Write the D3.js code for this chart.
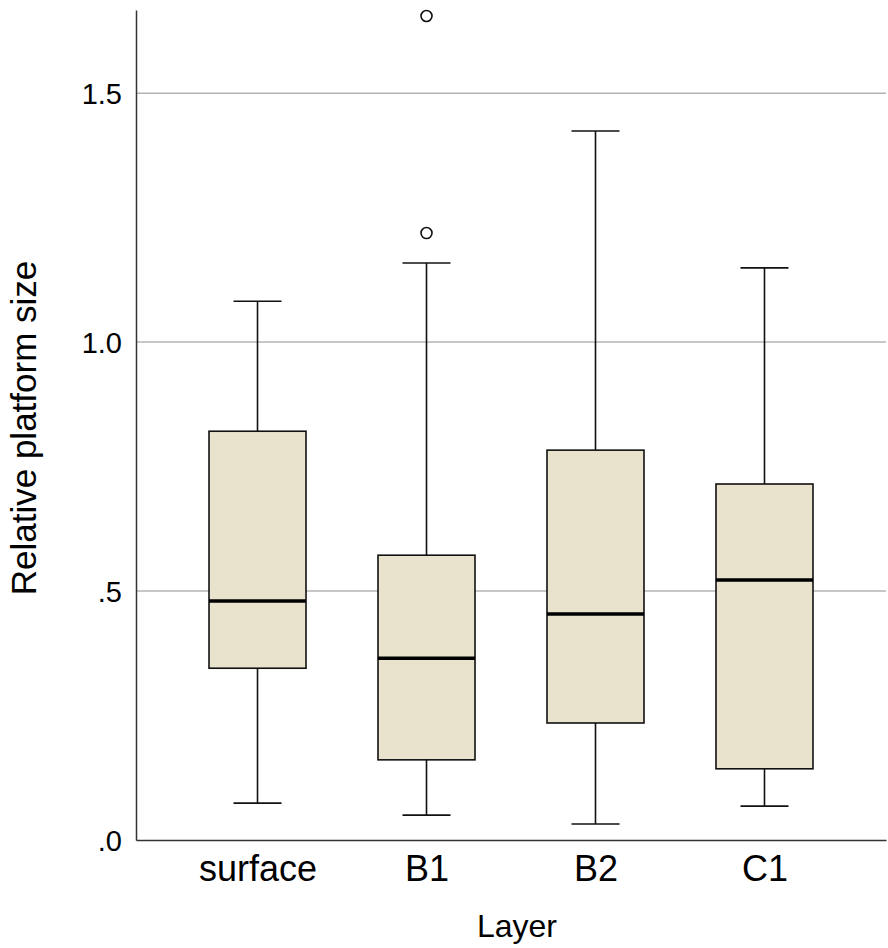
<!DOCTYPE html>
<html>
<head>
<meta charset="utf-8">
<script src="https://cdn.jsdelivr.net/npm/d3@7"></script>
<style>
  body { margin: 0; background: #fff; }
  svg text { font-family: "Liberation Sans", Arial, sans-serif; fill: #000; }
</style>
</head>
<body>
<div id="chart"></div>
<script>
// Box plot data
const categories  = ["surface", "B1", "B2", "C1"];
const whiskerLow  = [0.074, 0.050, 0.032, 0.068];
const q1          = [0.345, 0.161, 0.235, 0.143];
const median      = [0.480, 0.365, 0.454, 0.522];
const q3          = [0.821, 0.572, 0.783, 0.715];
const whiskerHigh = [1.082, 1.159, 1.424, 1.149];
const outliers    = [[], [1.219, 1.655], [], []];
const yTicks      = [0, 0.5, 1.0, 1.5];

const width = 888, height = 948;
const margin = {top: 10, right: 2, bottom: 108, left: 136};
const plotW = width - margin.left - margin.right;
const plotH = height - margin.top - margin.bottom;

const svg = d3.select("#chart").append("svg")
    .attr("width", width)
    .attr("height", height);

const g = svg.append("g")
    .attr("transform", "translate(" + margin.left + "," + margin.top + ")");

// Scales
const x = d3.scalePoint().domain(categories).range([0, plotW]).padding(0.719);
const y = d3.scaleLinear().domain([0, 1.667]).range([plotH, 0]);

const boxW = 97, capW = 48;

// Tick labels like ".0", ".5", "1.0"
const fmt = v => d3.format(".1f")(v).replace(/^0/, "");

// Gridlines
g.append("g").selectAll("line")
    .data(yTicks.filter(d => d > 0))
    .join("line")
    .attr("x1", 0).attr("x2", plotW)
    .attr("y1", d => y(d)).attr("y2", d => y(d))
    .attr("stroke", "#b4b4b4")
    .attr("stroke-width", 1.5);

// Y axis (no tick marks)
const yAxis = g.append("g")
    .call(d3.axisLeft(y).tickValues(yTicks).tickFormat(fmt).tickSize(0).tickPadding(14));
yAxis.select(".domain").attr("stroke", "#333").attr("stroke-width", 1.5);
yAxis.selectAll("text").style("font-size", "29px").attr("dy", "0.35em");

// X axis
const xAxis = g.append("g")
    .attr("transform", "translate(0," + plotH + ")")
    .call(d3.axisBottom(x).tickSize(0).tickPadding(15));
xAxis.select(".domain").attr("stroke", "#333").attr("stroke-width", 1.5);
xAxis.selectAll("text").style("font-size", "36px");

// Boxes
const boxes = g.append("g").selectAll("g")
    .data(categories)
    .join("g")
    .attr("transform", d => "translate(" + x(d) + ",0)");

// whisker stems
boxes.append("line")
    .attr("x1", 0).attr("x2", 0)
    .attr("y1", (d, i) => y(whiskerHigh[i]))
    .attr("y2", (d, i) => y(whiskerLow[i]))
    .attr("stroke", "#111").attr("stroke-width", 1.6);

// whisker caps
boxes.append("line")
    .attr("x1", -capW / 2).attr("x2", capW / 2)
    .attr("y1", (d, i) => y(whiskerHigh[i]))
    .attr("y2", (d, i) => y(whiskerHigh[i]))
    .attr("stroke", "#111").attr("stroke-width", 1.6);
boxes.append("line")
    .attr("x1", -capW / 2).attr("x2", capW / 2)
    .attr("y1", (d, i) => y(whiskerLow[i]))
    .attr("y2", (d, i) => y(whiskerLow[i]))
    .attr("stroke", "#111").attr("stroke-width", 1.6);

// box
boxes.append("rect")
    .attr("x", -boxW / 2)
    .attr("width", boxW)
    .attr("y", (d, i) => y(q3[i]))
    .attr("height", (d, i) => y(q1[i]) - y(q3[i]))
    .attr("fill", "#e9e3cd")
    .attr("stroke", "#111")
    .attr("stroke-width", 1.6);

// median
boxes.append("line")
    .attr("x1", -boxW / 2).attr("x2", boxW / 2)
    .attr("y1", (d, i) => y(median[i]))
    .attr("y2", (d, i) => y(median[i]))
    .attr("stroke", "#000").attr("stroke-width", 3.5);

// outliers
boxes.each(function(d, i) {
    d3.select(this).selectAll("circle")
        .data(outliers[i])
        .join("circle")
        .attr("cx", 0)
        .attr("cy", v => y(v))
        .attr("r", 5.5)
        .attr("fill", "#fff")
        .attr("stroke", "#111")
        .attr("stroke-width", 1.6);
});

// Axis titles
svg.append("text")
    .attr("x", margin.left + plotW / 2 + 6)
    .attr("y", 937)
    .attr("text-anchor", "middle")
    .style("font-size", "32px")
    .text("Layer");

svg.append("text")
    .attr("transform", "translate(36,428) rotate(-90)")
    .attr("text-anchor", "middle")
    .style("font-size", "35px")
    .text("Relative platform size");
</script>
</body>
</html>
